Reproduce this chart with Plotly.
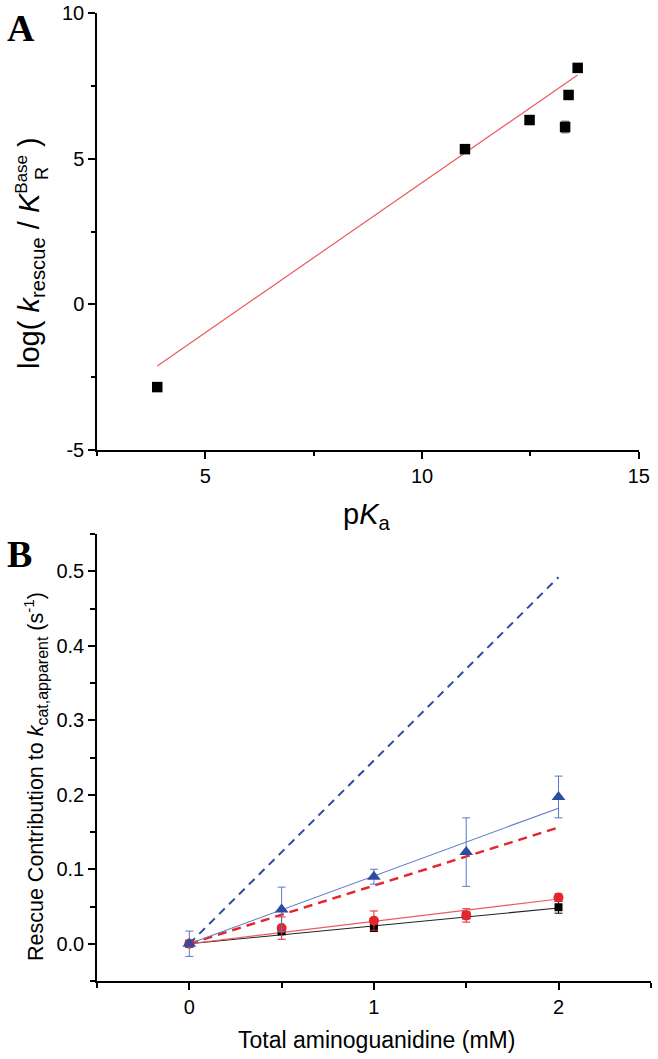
import plotly.graph_objects as go

# ---------------- Panel A data ----------------
pka = [3.89, 10.99, 12.48, 13.30, 13.38, 13.59]
log_ratio = [-2.84, 5.33, 6.33, 6.09, 7.19, 8.12]
log_ratio_err = [0.0, 0.0, 0.0, 0.2, 0.0, 0.0]
fit_a_slope = 1.03
fit_a_intercept = -6.12
a_yticks = [-5, 0, 5, 10]
a_xticks = [5, 10, 15]

# ---------------- Panel B data ----------------
conc = [0, 0.5, 1, 1.5, 2]
black_y = [0.0, 0.017, 0.0215, 0.038, 0.049]
black_err = [0.004, 0.005, 0.005, 0.004, 0.008]
red_y = [0.0, 0.021, 0.031, 0.038, 0.062]
red_err = [0.004, 0.015, 0.013, 0.009, 0.005]
blue_y = [0.0, 0.046, 0.090, 0.123, 0.197]
blue_err = [0.017, 0.030, 0.010, 0.046, 0.028]
black_fit_slope = 0.024
red_fit_slope = 0.030
blue_fit_slope = 0.091
blue_dash_slope = 0.246
red_dash_slope = 0.078

W, H = 658, 1059
FONT = "Liberation Sans, Arial, sans-serif"
BLUE = "#2c4d9f"
BLUE_LIGHT = "#5a78c6"
RED = "#e4252b"
RED_LINE = "#ec5a5e"


def px(x):
    return x / W


def py(y):
    return 1 - y / H


fig = go.Figure()

# Panel A
xa = [min(pka), max(pka)]
fig.add_trace(go.Scatter(x=xa, y=[fit_a_intercept + fit_a_slope * v for v in xa],
                         mode="lines", line=dict(color=RED_LINE, width=1.2),
                         xaxis="x", yaxis="y", showlegend=False))
fig.add_trace(go.Scatter(x=pka, y=log_ratio, mode="markers",
                         marker=dict(symbol="square", size=10.5, color="black"),
                         error_y=dict(type="data", array=log_ratio_err, color="#555", thickness=1, width=4),
                         xaxis="x", yaxis="y", showlegend=False))

# Panel B
xb = [min(conc), max(conc)]
fig.add_trace(go.Scatter(x=xb, y=[blue_dash_slope * v for v in xb], mode="lines",
                         line=dict(color=BLUE, width=2, dash="8px,6px"),
                         xaxis="x2", yaxis="y2", showlegend=False))
fig.add_trace(go.Scatter(x=xb, y=[red_dash_slope * v for v in xb], mode="lines",
                         line=dict(color=RED, width=2.4, dash="9px,6px"),
                         xaxis="x2", yaxis="y2", showlegend=False))
for slope, col in [(black_fit_slope, "#222"), (red_fit_slope, RED_LINE), (blue_fit_slope, BLUE_LIGHT)]:
    fig.add_trace(go.Scatter(x=xb, y=[slope * v for v in xb], mode="lines",
                             line=dict(color=col, width=1.1),
                             xaxis="x2", yaxis="y2", showlegend=False))

fig.add_trace(go.Scatter(x=conc, y=black_y, mode="markers",
                         marker=dict(symbol="square", size=8, color="black"),
                         error_y=dict(type="data", array=black_err, color="black", thickness=1, width=4),
                         xaxis="x2", yaxis="y2", showlegend=False))
fig.add_trace(go.Scatter(x=conc, y=red_y, mode="markers",
                         marker=dict(symbol="circle", size=10, color=RED),
                         error_y=dict(type="data", array=red_err, color=RED, thickness=1, width=4),
                         xaxis="x2", yaxis="y2", showlegend=False))
fig.add_trace(go.Scatter(x=conc, y=blue_y, mode="markers",
                         marker=dict(symbol="triangle-up", size=12, color=BLUE),
                         error_y=dict(type="data", array=blue_err, color=BLUE_LIGHT, thickness=1, width=4),
                         xaxis="x2", yaxis="y2", showlegend=False))

axis_common = dict(showline=True, linecolor="black", linewidth=1.5, ticks="outside",
                   ticklen=7, tickwidth=1.5, tickcolor="black", showgrid=False, zeroline=False,
                   tickfont=dict(family=FONT, size=20, color="black"), automargin=False,
                   ticklabeloverflow="allow")

fig.update_layout(
    width=W, height=H, margin=dict(l=0, r=0, t=0, b=0),
    paper_bgcolor="white", plot_bgcolor="white",
    xaxis=dict(domain=[px(97), px(639)], range=[2.5, 15.005], tickmode="array", tickvals=a_xticks,
               minor=dict(ticks="outside", ticklen=4, tickwidth=1.5, tickcolor="black", tickmode="linear",
                          tick0=0, dtick=2.5),
               anchor="y", **axis_common),
    yaxis=dict(domain=[py(450), py(13)], range=[-5, 10.005], tickmode="array", tickvals=a_yticks,
               ticktext=[str(v) for v in a_yticks],
               minor=dict(ticks="outside", ticklen=4, tickwidth=1.5, tickcolor="black", tickmode="linear",
                          tick0=0, dtick=2.5),
               anchor="x", **axis_common),
    xaxis2=dict(domain=[px(97), px(651)], range=[-0.5, 2.501], tick0=0, dtick=1,
                minor=dict(ticks="outside", ticklen=5, tickwidth=1.5, tickcolor="black", dtick=0.5),
                anchor="y2", **axis_common),
    yaxis2=dict(domain=[py(981), py(534)], range=[-0.05, 0.55], tick0=0, dtick=0.1, tickformat=".1f",
                minor=dict(ticks="outside", ticklen=5, tickwidth=1.5, tickcolor="black", dtick=0.05),
                anchor="x2", **axis_common),
)

ann = [
    dict(text="<b>A</b>", x=px(5), y=py(5), xanchor="left", yanchor="top",
         font=dict(family="Liberation Serif, Times New Roman, serif", size=38, color="black")),
    dict(text="<b>B</b>", x=px(5), y=py(531), xanchor="left", yanchor="top",
         font=dict(family="Liberation Serif, Times New Roman, serif", size=38, color="black")),
    dict(text="log( <i>k</i><sub>rescue</sub> / <i>K</i><sup><span style='font-size:17px'>Base</span></sup> )",
         x=px(31), y=py(253), xanchor="center", yanchor="middle", textangle=-90,
         font=dict(family=FONT, size=29, color="black")),
    dict(text="R", x=px(42), y=py(174), xanchor="center", yanchor="middle", textangle=-90,
         font=dict(family=FONT, size=18, color="black")),
    dict(text="p<i>K</i><sub>a</sub>", x=px(366), y=py(516), xanchor="center", yanchor="middle",
         font=dict(family=FONT, size=29, color="black")),
    dict(text="Rescue Contribution to <i>k</i><sub><span style='font-size:16px'>cat,apparent</span></sub>"
              " (s<sup>-1</sup>)", x=px(35), y=py(777),
         xanchor="center", yanchor="middle", textangle=-90,
         font=dict(family=FONT, size=21.5, color="black")),
    dict(text="Total aminoguanidine (mM)", x=px(376), y=py(1040), xanchor="center", yanchor="middle",
         font=dict(family=FONT, size=23, color="black")),
]
for a in ann:
    a.update(xref="paper", yref="paper", showarrow=False)
fig.update_layout(annotations=ann)

fig.write_html("out.html", config={"displayModeBar": False},
               post_script="document.body.style.margin='0';")
